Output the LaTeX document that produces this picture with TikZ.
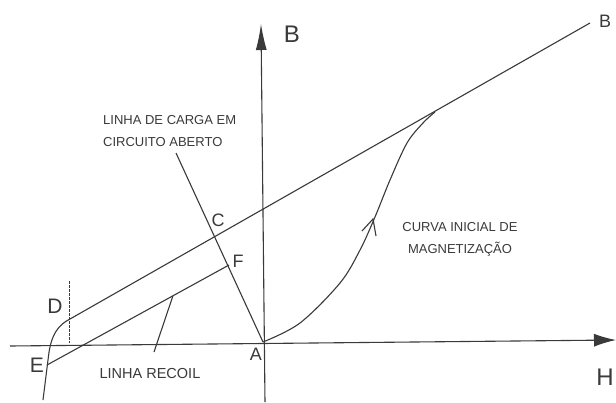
\documentclass[tikz,border=0pt]{standalone}
\usepackage{fontspec}
\setmainfont{Liberation Sans}
\usetikzlibrary{arrows.meta,calc}
\definecolor{ink}{HTML}{3A3A3A}
\begin{document}
\begin{tikzpicture}[x=1pt,y=-1pt,
  ln/.style={draw=ink, line width=1.1pt},
  lbl/.style={text=ink, inner sep=0pt},
  huge/.style={lbl, font=\fontsize{24}{24}\selectfont},
  large/.style={lbl, font=\fontsize{21}{21}\selectfont},
  mid/.style={lbl, font=\fontsize{18}{18}\selectfont},
  note/.style={lbl, font=\fontsize{13}{22}\selectfont}
]
\fill[white] (0,0) rectangle (616,402);
\useasboundingbox (0,0) rectangle (616,402);

% key points
\coordinate (A) at (263,342);
\coordinate (Vbot) at (265,402);
\coordinate (Vtop) at (261,24);
\coordinate (Hl) at (10,346);
\coordinate (Hr) at (616,340);
\coordinate (D) at (70,319);
\coordinate (Bend) at (590,23);
\coordinate (E) at (47,365);
\coordinate (Fend) at (229,265);
\coordinate (Ltop) at (176,153);
\coordinate (Rp) at ($(E)!0.692!(Fend)$);
\coordinate (Rlab) at (154,352);

% axes
\draw[ln, -{Latex[length=26pt,width=11pt]}] (Vbot) -- (Vtop);
\draw[ln, -{Latex[length=22pt,width=13pt]}] (Hl) -- (Hr);

% main line through D
\draw[ln] (D) -- (Bend);
% recoil line
\draw[ln] (E) -- (Fend);
% pointer to recoil label
\draw[ln] (Rp) -- (Rlab);
% load line
\draw[ln] (A) -- (Ltop);
% dotted vertical at D
\draw[ink, line width=1.2pt, dash pattern=on 2.5pt off 1.5pt] (69.5,281) -- (69.5,343);
% demagnetisation curve
\draw[ln] (D) .. controls (58,325) and (51,335) .. (48.5,356) -- (43,400);
% initial magnetisation curve
\draw[ln] plot[smooth,tension=0.55] coordinates {(263,342) (300,323) (340,283) (360,250) (375,217) (390,180) (407,143) (423,123) (435,112)};
\draw[ln] (362,231) -- (373,219) -- (376,236);

% labels
\node[huge] (lB) at (292,34) {B};
\node[mid] (lB2) at (605,21) {B};
\node[huge] (lH) at (605,377) {H};
\node[large] (lD) at (55,306) {D};
\node[large] (lE) at (37,365) {E};
\node[mid] (lA) at (256,354) {A};
\node[mid] (lC) at (218,220) {C};
\node[mid] (lF) at (238,261) {F};

\node[note, anchor=west, align=left] (tLoad) at (103,131) {LINHA DE CARGA EM\\CIRCUITO ABERTO};
\node[note, align=center] (tCurve) at (460,239) {CURVA INICIAL DE\\MAGNETIZAÇÃO};
\node[lbl, font=\fontsize{14.5}{14.5}\selectfont] (tRecoil) at (150,374) {LINHA RECOIL};
\end{tikzpicture}
\end{document}
